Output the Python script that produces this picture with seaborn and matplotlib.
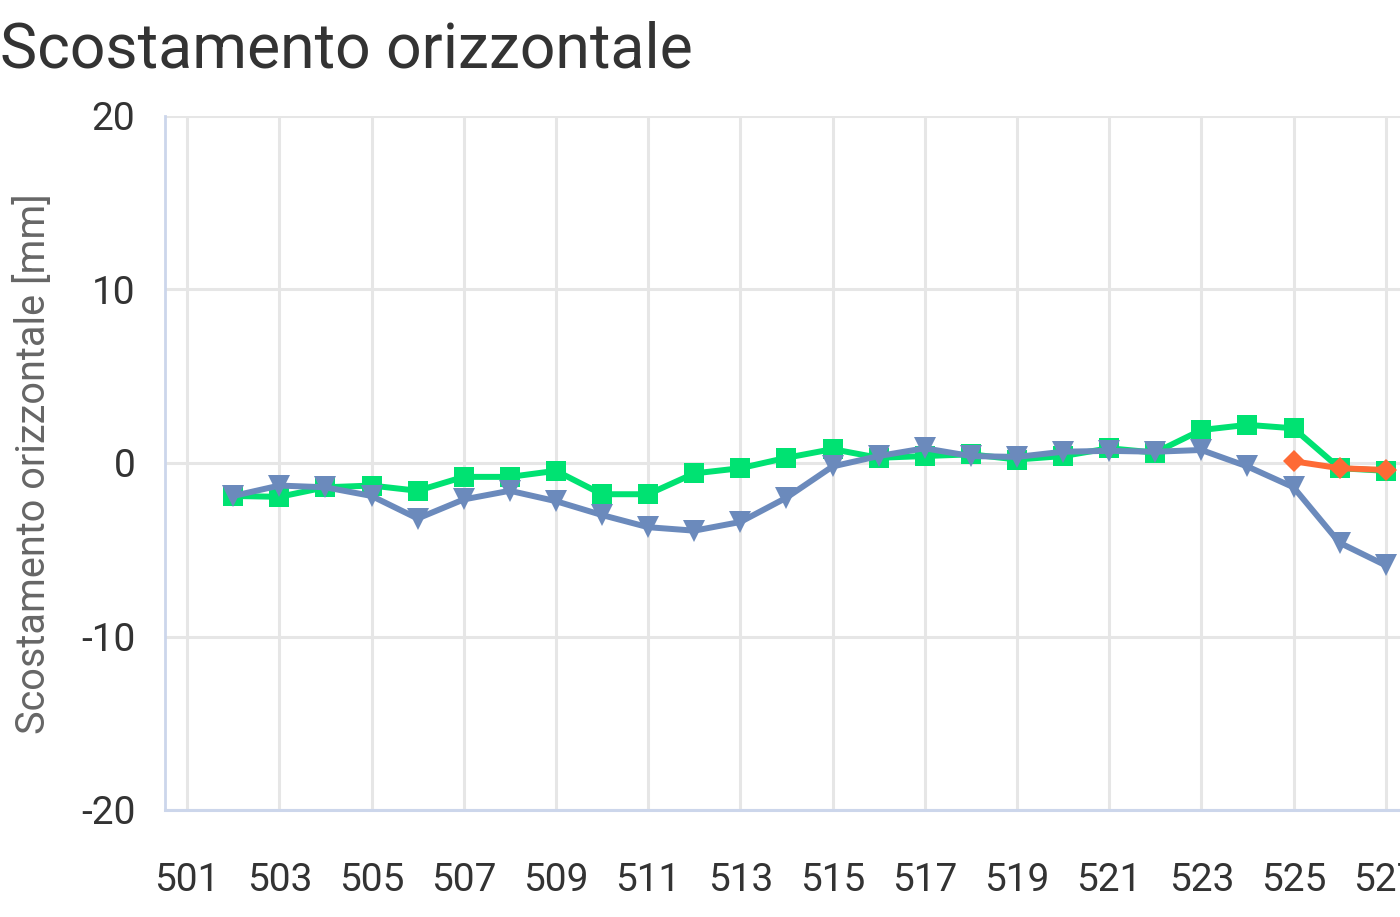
import numpy as np
import pandas as pd
import seaborn as sns
import matplotlib.pyplot as plt

# punti di misura (ascissa) e scostamenti [mm]
x_green = list(range(502, 528))
y_green = [-1.9, -1.95, -1.4, -1.3, -1.6, -0.8, -0.8, -0.45, -1.8, -1.8,
           -0.6, -0.3, 0.3, 0.8, 0.3, 0.4, 0.5, 0.2, 0.4, 0.85,
           0.6, 1.9, 2.2, 2.0, -0.3, -0.45]

x_blue = list(range(502, 528))
y_blue = [-1.9, -1.3, -1.4, -1.9, -3.2, -2.1, -1.6, -2.2, -3.0, -3.7,
          -3.9, -3.4, -2.0, -0.2, 0.4, 0.85, 0.4, 0.35, 0.65, 0.7,
          0.65, 0.75, -0.2, -1.4, -4.6, -5.9]

x_orange = [525, 526, 527]
y_orange = [0.1, -0.3, -0.4]

x_ticks = list(range(501, 528, 2))
y_ticks = [-20, -10, 0, 10, 20]

title = "Scostamento orizzontale"
ylabel = "Scostamento orizzontale [mm]"

sns.set_style("white")
plt.rcParams['font.family'] = ['Roboto', 'DejaVu Sans']
plt.rcParams['axes.unicode_minus'] = False

grid_col = "#e6e6e6"
axis_col = "#ccd6eb"

fig = plt.figure(figsize=(14, 9.17), dpi=100)
ax = fig.add_axes([165 / 1400, 107 / 917, 1235 / 1400, 694 / 917])

# serie disegnate una per una (verde, arancio, blu sopra)
sns.lineplot(x=x_green, y=y_green, ax=ax, color="#00e272", marker="s",
             markersize=14, markeredgewidth=0, linewidth=4.3, zorder=3)
sns.lineplot(x=x_orange, y=y_orange, ax=ax, color="#fe6a35", marker="D",
             markersize=11, markeredgewidth=0, linewidth=4.3, zorder=4)
sns.lineplot(x=x_blue, y=y_blue, ax=ax, color="#6b8abc", marker="v",
             markersize=16, markeredgewidth=0, linewidth=4.3, zorder=5)

ax.set_xlim(500.52, 527.31)
ax.set_ylim(-20, 20)
ax.set_xticks(x_ticks)
ax.set_yticks(y_ticks)
ax.set_xlabel("")
ax.set_ylabel("")

ax.grid(True, color=grid_col, linewidth=2.2)
ax.set_axisbelow(True)

for side in ["top", "right"]:
    ax.spines[side].set_visible(False)
ax.spines["left"].set_color(axis_col)
ax.spines["left"].set_linewidth(2)
ax.spines["bottom"].set_color(axis_col)
ax.spines["bottom"].set_linewidth(2.2)

ax.tick_params(axis="x", length=14.4, width=1.6, color=axis_col, pad=23,
               labelsize=28, labelcolor="#333333", direction="out")
ax.tick_params(axis="y", length=14.4, width=2.2, color=grid_col, pad=7,
               labelsize=28, labelcolor="#333333", direction="out")

fig.text(0.0, 1 - 67 / 917, title, fontsize=45, color="#333333",
         ha="left", va="baseline")
fig.text(33 / 1400, 1 - 464 / 917, ylabel, fontsize=28.5, color="#666666",
         rotation=90, ha="center", va="center")

fig.savefig("out.png", dpi=100)
